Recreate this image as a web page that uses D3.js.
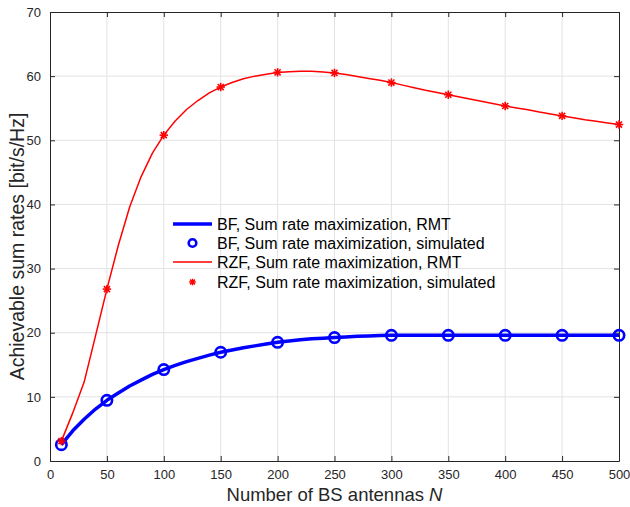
<!DOCTYPE html>
<html>
<head>
<meta charset="utf-8">
<script src="https://cdn.jsdelivr.net/npm/d3@7/dist/d3.min.js"></script>
<style>
  html, body { margin: 0; padding: 0; background: #fff; }
  svg { display: block; font-family: "Liberation Sans", Arial, Helvetica, sans-serif; }
</style>
</head>
<body>
<svg id="chart" width="630" height="507"></svg>
<script>
// Number of BS antennas for the analytical (RMT) curves
const nFine = [10, 20, 30, 40, 50, 60, 70, 80, 90, 100, 110, 120, 130, 140, 150, 160, 170, 180, 190, 200,
  210, 220, 230, 240, 250, 260, 270, 280, 290, 300, 310, 320, 330, 340, 350, 360, 370, 380, 390, 400,
  410, 420, 430, 440, 450, 460, 470, 480, 490, 500];

// BF, sum rate maximization, RMT
const bfRmt = [2.55, 4.7, 6.5, 8.1, 9.46, 10.6, 11.7, 12.6, 13.5, 14.25, 14.9, 15.5, 16.0, 16.5, 16.95,
  17.3, 17.65, 17.95, 18.25, 18.5, 18.7, 18.9, 19.05, 19.15, 19.24, 19.35, 19.45, 19.5, 19.55, 19.6,
  19.6, 19.6, 19.6, 19.6, 19.6, 19.6, 19.6, 19.6, 19.6, 19.6, 19.6, 19.6, 19.6, 19.6, 19.6,
  19.6, 19.6, 19.6, 19.6, 19.6];

// RZF, sum rate maximization, RMT
const rzfRmt = [3.1, 7.5, 12.3, 19.5, 26.8, 33.6, 39.6, 44.3, 48.0, 50.8, 53.0, 54.8, 56.2, 57.4, 58.3,
  59.0, 59.6, 60.0, 60.3, 60.55, 60.7, 60.75, 60.75, 60.65, 60.5, 60.25, 59.95, 59.65, 59.35, 59.0,
  58.6, 58.2, 57.8, 57.45, 57.1, 56.75, 56.4, 56.05, 55.7, 55.35, 55.05, 54.75, 54.4, 54.1, 53.8,
  53.5, 53.2, 52.95, 52.7, 52.45];

// Number of BS antennas for the simulated points
const nSim = [10, 50, 100, 150, 200, 250, 300, 350, 400, 450, 500];
const bfSim = [2.55, 9.46, 14.25, 16.95, 18.5, 19.24, 19.6, 19.6, 19.6, 19.6, 19.6];
const rzfSim = [3.1, 26.8, 50.8, 58.3, 60.6, 60.5, 59.0, 57.1, 55.35, 53.8, 52.45];

const xTicks = [0, 50, 100, 150, 200, 250, 300, 350, 400, 450, 500];
const yTicks = [0, 10, 20, 30, 40, 50, 60, 70];

const legendLabels = [
  "BF, Sum rate maximization, RMT",
  "BF, Sum rate maximization, simulated",
  "RZF, Sum rate maximization, RMT",
  "RZF, Sum rate maximization, simulated"
];

const svg = d3.select("#chart");
const margin = { left: 50, right: 11, top: 12, bottom: 46 };
const W = 630, H = 507;
const x = d3.scaleLinear().domain([0, 500]).range([margin.left, W - margin.right]);
const y = d3.scaleLinear().domain([0, 70]).range([H - margin.bottom, margin.top]);

const axisColor = "#262626";
const gridColor = "#e3e3e3";
const blue = "#0000ff", red = "#ff0000";

// grid
const grid = svg.append("g");
grid.selectAll("line.vx").data(xTicks.slice(1, -1)).join("line")
  .attr("x1", d => x(d)).attr("x2", d => x(d))
  .attr("y1", y(0)).attr("y2", y(70))
  .attr("stroke", gridColor).attr("stroke-width", 1);
grid.selectAll("line.hy").data(yTicks.slice(1, -1)).join("line")
  .attr("x1", x(0)).attr("x2", x(500))
  .attr("y1", d => y(d)).attr("y2", d => y(d))
  .attr("stroke", gridColor).attr("stroke-width", 1);

// axes (ticks inward on all four sides)
const tickLen = 5;
function styleAxis(g) {
  g.select(".domain").attr("stroke", axisColor).attr("stroke-width", 1);
  g.selectAll(".tick line").attr("stroke", axisColor);
  g.selectAll(".tick text").attr("fill", axisColor).attr("font-size", 13)
    .attr("font-family", "'Liberation Sans', Arial, sans-serif");
}
svg.append("g").attr("transform", `translate(0,${y(0)})`)
  .call(d3.axisBottom(x).tickValues(xTicks).tickSizeInner(-tickLen).tickSizeOuter(0).tickPadding(9))
  .call(styleAxis);
svg.append("g").attr("transform", `translate(0,${y(70)})`)
  .call(d3.axisTop(x).tickValues(xTicks).tickSizeInner(-tickLen).tickSizeOuter(0).tickFormat(""))
  .call(styleAxis);
svg.append("g").attr("transform", `translate(${x(0)},0)`)
  .call(d3.axisLeft(y).tickValues(yTicks).tickSizeInner(-tickLen).tickSizeOuter(0).tickPadding(9))
  .call(styleAxis);
svg.append("g").attr("transform", `translate(${x(500)},0)`)
  .call(d3.axisRight(y).tickValues(yTicks).tickSizeInner(-tickLen).tickSizeOuter(0).tickFormat(""))
  .call(styleAxis);

// curves
const line = d3.line().x(d => x(d[0])).y(d => y(d[1]));
svg.append("path").datum(d3.zip(nFine, bfRmt))
  .attr("d", line).attr("fill", "none").attr("stroke", blue).attr("stroke-width", 3.5)
  .attr("stroke-linejoin", "round");
svg.append("path").datum(d3.zip(nFine, rzfRmt))
  .attr("d", line).attr("fill", "none").attr("stroke", red).attr("stroke-width", 1.5)
  .attr("stroke-linejoin", "round");

// markers
function circleMarker(g, cx, cy, r) {
  g.append("circle").attr("cx", cx).attr("cy", cy).attr("r", r)
    .attr("fill", "none").attr("stroke", blue).attr("stroke-width", 2.6);
}
function starMarker(g, cx, cy, s, w) {
  const pts = [[s, 0], [0, s], [s * 0.72, s * 0.72], [s * 0.72, -s * 0.72]];
  pts.forEach(([dx, dy]) => {
    g.append("line").attr("x1", cx - dx).attr("y1", cy - dy).attr("x2", cx + dx).attr("y2", cy + dy)
      .attr("stroke", red).attr("stroke-width", w);
  });
}
const mk = svg.append("g");
nSim.forEach((n, i) => circleMarker(mk, x(n), y(bfSim[i]), 5.2));
nSim.forEach((n, i) => starMarker(mk, x(n), y(rzfSim[i]), 4.2, 1.6));

// legend
const lg = svg.append("g");
const rowY = [224, 243, 262, 282];
const sx0 = 173, sx1 = 212, tx = 217;
lg.append("line").attr("x1", sx0).attr("x2", sx1).attr("y1", rowY[0]).attr("y2", rowY[0])
  .attr("stroke", blue).attr("stroke-width", 3.5);
circleMarker(lg, (sx0 + sx1) / 2, rowY[1], 3.8);
lg.append("line").attr("x1", sx0).attr("x2", sx1).attr("y1", rowY[2]).attr("y2", rowY[2])
  .attr("stroke", red).attr("stroke-width", 1.5);
starMarker(lg, (sx0 + sx1) / 2, rowY[3], 3.3, 1.5);
lg.selectAll("text").data(legendLabels).join("text")
  .attr("x", tx).attr("y", (d, i) => rowY[i]).attr("dy", "0.36em")
  .attr("font-size", 16).attr("fill", "#000").text(d => d);

// axis titles
svg.append("text").attr("x", (x(0) + x(500)) / 2).attr("y", 501)
  .attr("text-anchor", "middle").attr("font-size", 18.5).attr("fill", axisColor)
  .call(t => {
    t.append("tspan").text("Number of BS antennas  ");
    t.append("tspan").attr("font-style", "italic").text("N");
  });
svg.append("text").attr("transform", `translate(24,${(y(0) + y(70)) / 2 + 10}) rotate(-90)`)
  .attr("text-anchor", "middle").attr("font-size", 19.5).attr("fill", axisColor)
  .text("Achievable sum rates [bit/s/Hz]");
</script>
</body>
</html>
